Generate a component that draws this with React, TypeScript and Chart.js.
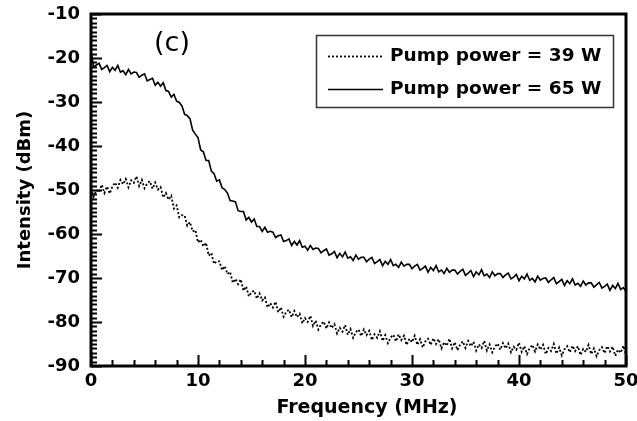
import { useEffect, useRef } from "react";
import { Chart, registerables } from "chart.js";

Chart.register(...registerables);

// Frequency axis samples (MHz)
const FREQ_MHZ = [
  0, 0.25, 0.5, 0.75, 1, 1.25, 1.5, 1.75, 2, 2.25, 2.5, 2.75, 3, 3.25, 3.5, 3.75, 4, 4.25, 4.5, 4.75,
  5, 5.25, 5.5, 5.75, 6, 6.25, 6.5, 6.75, 7, 7.25, 7.5, 7.75, 8, 8.25, 8.5, 8.75, 9, 9.25, 9.5, 9.75,
  10, 10.25, 10.5, 10.75, 11, 11.25, 11.5, 11.75, 12, 12.25, 12.5, 12.75, 13, 13.25, 13.5, 13.75, 14, 14.25, 14.5, 14.75,
  15, 15.25, 15.5, 15.75, 16, 16.25, 16.5, 16.75, 17, 17.25, 17.5, 17.75, 18, 18.25, 18.5, 18.75, 19, 19.25, 19.5, 19.75,
  20, 20.25, 20.5, 20.75, 21, 21.25, 21.5, 21.75, 22, 22.25, 22.5, 22.75, 23, 23.25, 23.5, 23.75, 24, 24.25, 24.5, 24.75,
  25, 25.25, 25.5, 25.75, 26, 26.25, 26.5, 26.75, 27, 27.25, 27.5, 27.75, 28, 28.25, 28.5, 28.75, 29, 29.25, 29.5, 29.75,
  30, 30.25, 30.5, 30.75, 31, 31.25, 31.5, 31.75, 32, 32.25, 32.5, 32.75, 33, 33.25, 33.5, 33.75, 34, 34.25, 34.5, 34.75,
  35, 35.25, 35.5, 35.75, 36, 36.25, 36.5, 36.75, 37, 37.25, 37.5, 37.75, 38, 38.25, 38.5, 38.75, 39, 39.25, 39.5, 39.75,
  40, 40.25, 40.5, 40.75, 41, 41.25, 41.5, 41.75, 42, 42.25, 42.5, 42.75, 43, 43.25, 43.5, 43.75, 44, 44.25, 44.5, 44.75,
  45, 45.25, 45.5, 45.75, 46, 46.25, 46.5, 46.75, 47, 47.25, 47.5, 47.75, 48, 48.25, 48.5, 48.75, 49, 49.25, 49.5, 49.75,
  50,
];

// Intensity (dBm), pump power 39 W (dotted)
const POWER_39W = [
  -49.6, -51.5, -50.0, -50.5, -48.8, -50.7, -49.2, -50.8, -49.2, -48.3, -49.5, -47.7, -48.7, -47.5, -49.4, -47.8, -48.4, -46.9, -49.1, -47.7,
  -49.6, -48.5, -48.0, -49.7, -48.3, -49.9, -49.3, -51.7, -50.7, -52.2, -51.3, -54.2, -53.5, -56.2, -55.7, -55.8, -58.1, -57.3, -59.4, -59.1,
  -61.9, -61.3, -62.8, -62.0, -64.9, -64.3, -66.8, -66.2, -66.2, -68.2, -67.3, -69.1, -68.6, -71.1, -70.2, -71.4, -70.3, -72.9, -71.9, -74.2,
  -73.2, -72.9, -74.7, -73.5, -75.1, -74.4, -76.7, -75.7, -76.7, -75.4, -77.8, -76.7, -78.8, -77.7, -77.2, -78.9, -77.5, -78.9, -78.1, -80.3,
  -79.1, -80.0, -78.6, -80.9, -79.7, -81.7, -80.5, -79.9, -81.5, -80.1, -81.4, -80.5, -82.6, -81.3, -82.2, -80.7, -82.9, -81.6, -83.6, -82.3,
  -81.7, -83.2, -81.7, -83.0, -82.0, -84.1, -82.8, -83.6, -82.1, -84.3, -83.0, -84.8, -83.5, -82.9, -84.4, -82.8, -84.1, -83.1, -85.2, -83.8,
  -84.6, -83.1, -85.2, -83.9, -85.8, -84.4, -83.8, -85.2, -83.7, -85.0, -83.9, -86.0, -84.6, -85.4, -83.8, -86.0, -84.6, -86.4, -85.1, -84.4,
  -85.9, -84.3, -85.5, -84.5, -86.5, -85.1, -85.9, -84.3, -86.5, -85.1, -86.9, -85.6, -84.9, -86.3, -84.8, -86.0, -84.9, -86.9, -85.6, -86.3,
  -84.7, -86.8, -85.5, -87.3, -85.9, -85.2, -86.7, -85.1, -86.3, -85.2, -87.3, -85.9, -86.6, -85.0, -87.2, -85.8, -87.6, -86.2, -85.5, -86.9,
  -85.4, -86.6, -85.5, -87.5, -86.1, -86.8, -85.2, -87.3, -86.0, -87.8, -86.4, -85.7, -87.1, -85.5, -86.7, -85.6, -87.7, -86.3, -87.0, -85.4,
  -87.5,
];

// Intensity (dBm), pump power 65 W (solid)
const POWER_65W = [
  -18.5, -22.0, -21.6, -21.2, -22.6, -22.2, -21.7, -23.1, -22.1, -22.8, -21.7, -23.2, -22.9, -23.8, -22.6, -23.6, -23.2, -23.3, -24.4, -23.9,
  -23.6, -25.2, -24.9, -24.6, -26.2, -25.5, -26.4, -25.6, -27.4, -27.6, -28.9, -28.3, -29.8, -30.1, -30.9, -32.8, -33.1, -33.8, -36.4, -37.3,
  -38.1, -40.9, -41.3, -43.3, -43.3, -45.7, -46.3, -48.0, -47.7, -49.5, -49.9, -50.7, -52.4, -52.5, -52.7, -54.7, -54.9, -54.9, -56.8, -56.2,
  -57.3, -56.6, -58.3, -58.3, -59.4, -58.5, -59.6, -59.4, -59.6, -60.8, -60.4, -60.2, -61.7, -61.5, -61.1, -62.6, -61.7, -62.5, -61.5, -63.0,
  -62.8, -63.7, -62.6, -63.5, -63.2, -63.3, -64.3, -63.8, -63.4, -64.8, -64.5, -64.0, -65.4, -64.4, -65.2, -64.1, -65.5, -65.2, -66.0, -64.8,
  -65.7, -65.3, -65.3, -66.3, -65.7, -65.3, -66.7, -66.3, -65.8, -67.2, -66.2, -66.9, -65.8, -67.2, -66.9, -67.6, -66.4, -67.3, -66.9, -66.9,
  -67.9, -67.3, -66.9, -68.2, -67.8, -67.3, -68.7, -67.6, -68.3, -67.2, -68.6, -68.2, -69.0, -67.8, -68.7, -68.2, -68.2, -69.1, -68.5, -68.0,
  -69.4, -68.9, -68.3, -69.7, -68.6, -69.3, -68.1, -69.5, -69.1, -69.9, -68.6, -69.5, -69.0, -69.0, -69.9, -69.3, -68.9, -70.2, -69.8, -69.2,
  -70.6, -69.6, -70.2, -69.1, -70.5, -70.1, -70.9, -69.6, -70.5, -70.1, -70.0, -71.0, -70.4, -69.9, -71.3, -70.8, -70.3, -71.7, -70.6, -71.3,
  -70.2, -71.6, -71.2, -71.9, -70.7, -71.6, -71.1, -71.1, -72.1, -71.5, -71.0, -72.3, -71.9, -71.4, -72.8, -71.7, -72.4, -71.2, -72.6, -72.2,
  -73.0,
];

const SERIES_LABELS = ["Pump power = 39 W", "Pump power = 65 W"];
const PANEL_LABEL = "(c)";
const X_TITLE = "Frequency (MHz)";
const Y_TITLE = "Intensity (dBm)";
const X_RANGE = [0, 50];
const Y_RANGE = [-90, -10];
const X_MAJOR_STEP = 10;
const X_MINOR_STEP = 2;
const Y_MAJOR_STEP = 10;
const Y_MINOR_STEP = 1;

const BOLD = "'DejaVu Sans', sans-serif";

const framePlugin = {
  id: "frameAndTicks",
  afterDatasetsDraw(chart: any) {
    const { ctx, chartArea: a, scales } = chart;
    const xs = scales.x;
    const ys = scales.y;
    ctx.save();
    ctx.strokeStyle = "#000";
    // inward ticks
    ctx.lineWidth = 2;
    for (let v = X_RANGE[0]; v <= X_RANGE[1] + 1e-9; v += X_MINOR_STEP) {
      const px = Math.round(xs.getPixelForValue(v)) + 0.5;
      const len = v % X_MAJOR_STEP === 0 ? 11 : 6;
      ctx.beginPath();
      ctx.moveTo(px, a.bottom);
      ctx.lineTo(px, a.bottom - len);
      ctx.stroke();
    }
    for (let v = Y_RANGE[0]; v <= Y_RANGE[1] + 1e-9; v += Y_MINOR_STEP) {
      const py = Math.round(ys.getPixelForValue(v)) + 0.5;
      const len = v % Y_MAJOR_STEP === 0 ? 11 : 6;
      ctx.beginPath();
      ctx.moveTo(a.left, py);
      ctx.lineTo(a.left + len, py);
      ctx.stroke();
    }
    // frame
    ctx.lineWidth = 3;
    ctx.strokeRect(a.left, a.top, a.right - a.left, a.bottom - a.top);

    // x title
    ctx.fillStyle = "#000";
    ctx.font = "bold 19px " + BOLD;
    ctx.textAlign = "center";
    ctx.textBaseline = "middle";
    ctx.fillText(X_TITLE, 367, 408);

    // panel label
    ctx.font = "27px 'DejaVu Sans', sans-serif";
    ctx.fillText(PANEL_LABEL, 172, 44);

    // legend box
    ctx.lineWidth = 1.5;
    ctx.strokeStyle = "#333";
    ctx.strokeRect(316.5, 35.5, 297, 72);
    const rows = [56, 89];
    chart.data.datasets.forEach((ds: any, i: number) => {
      const y = rows[i];
      ctx.strokeStyle = "#000";
      ctx.lineWidth = ds.borderWidth;
      ctx.setLineDash(ds.borderDash || []);
      ctx.beginPath();
      ctx.moveTo(328, y + 0.5);
      ctx.lineTo(383, y + 0.5);
      ctx.stroke();
      ctx.setLineDash([]);
      ctx.fillStyle = "#000";
      ctx.font = "bold 18.5px " + BOLD;
      ctx.textAlign = "left";
      ctx.textBaseline = "middle";
      ctx.fillText(ds.label, 390, y);
    });
    ctx.restore();
  },
};

export default function App() {
  const ref = useRef<HTMLCanvasElement | null>(null);

  useEffect(() => {
    if (!ref.current) return;
    const chart = new Chart(ref.current, {
      type: "line",
      data: {
        datasets: [
          {
            label: SERIES_LABELS[0],
            data: FREQ_MHZ.map((f, i) => ({ x: f, y: POWER_39W[i] })),
            borderColor: "#000",
            borderWidth: 1.8,
            borderDash: [2, 2],
            pointRadius: 0,
            tension: 0,
            fill: false,
          },
          {
            label: SERIES_LABELS[1],
            data: FREQ_MHZ.map((f, i) => ({ x: f, y: POWER_65W[i] })),
            borderColor: "#000",
            borderWidth: 1.6,
            pointRadius: 0,
            tension: 0,
            fill: false,
          },
        ],
      },
      options: {
        responsive: false,
        animation: false,
        events: [],
        layout: { autoPadding: false, padding: { top: 14, right: 11, left: 0, bottom: 0 } },
        plugins: { legend: { display: false }, tooltip: { enabled: false }, title: { display: false } },
        scales: {
          x: {
            type: "linear",
            min: X_RANGE[0],
            max: X_RANGE[1],
            grid: { display: false, drawTicks: false },
            border: { display: false },
            ticks: {
              stepSize: X_MAJOR_STEP,
              color: "#000",
              padding: 5,
              maxRotation: 0,
              font: { family: BOLD, size: 18, weight: "bold" },
            },
            title: { display: false },
            afterFit(s: any) {
              s.height = 55;
              s.paddingLeft = 0;
              s.paddingRight = 0;
            },
          },
          y: {
            type: "linear",
            min: Y_RANGE[0],
            max: Y_RANGE[1],
            grid: { display: false, drawTicks: false },
            border: { display: false },
            ticks: {
              stepSize: Y_MAJOR_STEP,
              color: "#000",
              padding: 11,
              font: { family: BOLD, size: 18, weight: "bold" },
            },
            title: {
              display: true,
              text: Y_TITLE,
              color: "#000",
              font: { family: BOLD, size: 18, weight: "bold", lineHeight: 1.2 },
              padding: { top: 15, bottom: 0 },
            },
            afterFit(s: any) {
              s.width = 91;
              s.paddingTop = 0;
              s.paddingBottom = 0;
            },
          },
        },
      } as any,
      plugins: [framePlugin],
    });
    return () => chart.destroy();
  }, []);

  return (
    <div style={{ position: "fixed", left: 0, top: 0, width: 637, height: 421, background: "#fff" }}>
      <canvas ref={ref} width={637} height={421} style={{ display: "block" }} />
    </div>
  );
}
